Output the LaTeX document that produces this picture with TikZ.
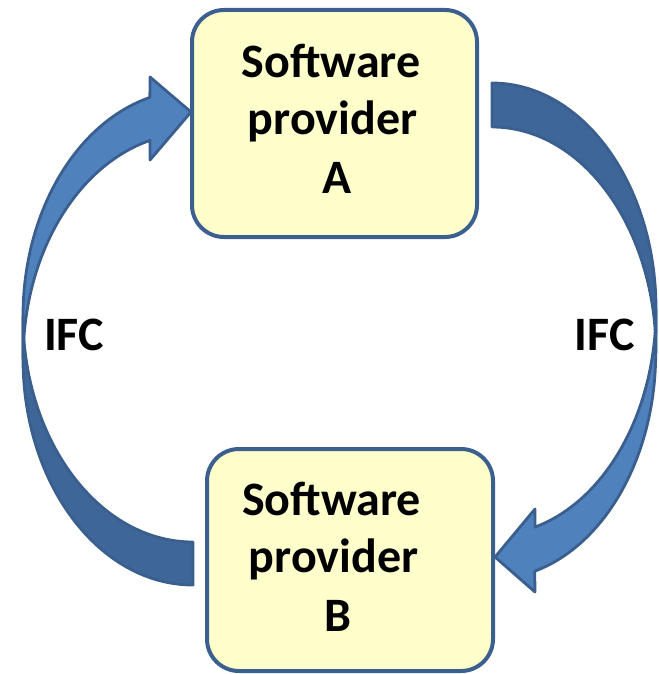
\documentclass[tikz,border=0pt]{standalone}
\usepackage{fontspec}
\setmainfont{Carlito}
\definecolor{boxfill}{HTML}{FFFFCC}
\definecolor{boxline}{HTML}{3B5F8F}
\definecolor{frontblue}{HTML}{4F81BD}
\definecolor{backblue}{HTML}{3F6698}
\definecolor{edgeblue}{HTML}{3A5F8E}
\begin{document}
\begin{tikzpicture}[x=1pt,y=-1pt,
  provbox/.style={draw=boxline, line width=4pt, fill=boxfill,
    rounded corners=32pt, inner sep=0pt, outer sep=0pt},
  boxtext/.style={anchor=base, inner sep=0pt,
    font=\fontsize{48}{48}\selectfont\bfseries},
  bandback/.style={fill=backblue, draw=edgeblue, line width=2.8pt, line join=round},
  bandfront/.style={fill=frontblue, draw=edgeblue, line width=2.8pt, line join=round},
  arcL/.style={x radius=170, y radius=226},
  arcR/.style={x radius=164, y radius=226}]
\useasboundingbox (0,0) rectangle (658,674);

% curved arrow on the left: B back to A
\draw[bandback] (23,359) arc[start angle=180, end angle=90, arcL]
  -- (193,542) arc[start angle=90, end angle=180, arcL] -- cycle;
\draw[bandfront] (23,316) arc[start angle=180, end angle=255.3, arcL]
  -- (150,77) -- (191,112) -- (150,160) -- (150,140.4)
  arc[start angle=255.3, end angle=180, arcL] -- cycle;

% curved arrow on the right: A over to B
\draw[bandback] (492,83) arc[start angle=270, end angle=360, arcR]
  -- (656,353) arc[start angle=0, end angle=-90, arcR] -- cycle;
\draw[bandfront] (656,309) arc[start angle=0, end angle=74.8, arcR]
  -- (535,509) -- (495,557) -- (535,592) -- (534.7,571.2)
  arc[start angle=74.8, end angle=0, arcR] -- cycle;

% the two providers
\node[provbox, minimum width=285pt, minimum height=227pt] (boxA) at (334.5,123.5) {};
\node[provbox, minimum width=286pt, minimum height=222pt] (boxB) at (350,560) {};

\node[boxtext] (a1) at (331,78) {Software};
\node[boxtext] (a2) at (332.5,135) {provider};
\node[boxtext] (a3) at (337.5,193) {A};

\node[boxtext] (b1) at (331.5,515) {Software};
\node[boxtext] (b2) at (333.5,572) {provider};
\node[boxtext] (b3) at (337.5,631) {B};

% arrow labels
\node[boxtext] (ifcL) at (74,350) {IFC};
\node[boxtext] (ifcR) at (604.5,350) {IFC};
\end{tikzpicture}
\end{document}
